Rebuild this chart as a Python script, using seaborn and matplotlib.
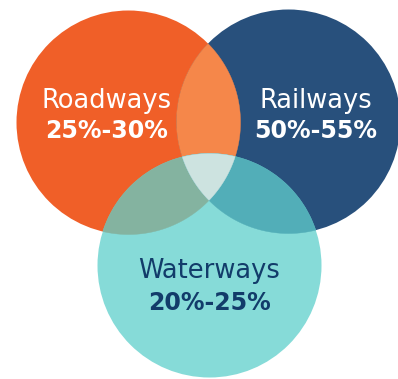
import numpy as np
import matplotlib
matplotlib.use("Agg")
import matplotlib.pyplot as plt
from matplotlib.patches import Circle, Polygon
import seaborn as sns

# ---- data ----
categories = ["Roadways", "Railways", "Waterways"]
shares = ["25%-30%", "50%-55%", "20%-25%"]

# ---- styling / layout (pixel coordinates) ----
centers = [(128.5, 122.5), (288.5, 121.5), (209.5, 265.5)]
radius = 112.0
fill_colors = ["#F05F28", "#28507C", "#86DBD8"]
pair_colors = {(0, 1): "#F5874A", (0, 2): "#84B3A0", (1, 2): "#52AEB8"}
triple_color = "#CDE3E0"
text_colors = ["white", "white", "#123C6A"]
name_pos = [(107, 108), (316, 108), (209, 278)]
share_pos = [(107, 138), (316, 138), (209, 310)]

sns.set_theme(style="white")
plt.rcParams["font.family"] = ["DejaVu Sans"]

fig = plt.figure(figsize=(3.98, 3.79), dpi=100)
ax = fig.add_axes([0, 0, 1, 1])
ax.set_xlim(0, 398)
ax.set_ylim(379, 0)
ax.set_aspect("equal")
ax.axis("off")


def inside(p, idx):
    cx, cy = centers[idx]
    return (p[0] - cx) ** 2 + (p[1] - cy) ** 2 <= radius ** 2 + 1e-6


def intersection_poly(ids):
    pts = []
    t = np.linspace(0, 2 * np.pi, 2000, endpoint=False)
    for i in ids:
        cx, cy = centers[i]
        for a in t:
            p = (cx + radius * np.cos(a), cy + radius * np.sin(a))
            if all(inside(p, j) for j in ids if j != i):
                pts.append(p)
    pts = np.array(pts)
    c = pts.mean(axis=0)
    ang = np.arctan2(pts[:, 1] - c[1], pts[:, 0] - c[0])
    return pts[np.argsort(ang)]


for i, (c, col) in enumerate(zip(centers, fill_colors)):
    ax.add_patch(Circle(c, radius, facecolor=col, edgecolor="none", lw=0, zorder=1))

for (i, j), col in pair_colors.items():
    ax.add_patch(Polygon(intersection_poly([i, j]), closed=True, facecolor=col,
                         edgecolor=col, lw=0.3, zorder=2))

ax.add_patch(Polygon(intersection_poly([0, 1, 2]), closed=True, facecolor=triple_color,
                     edgecolor=triple_color, lw=0.3, zorder=3))

for k in range(3):
    ax.text(name_pos[k][0], name_pos[k][1], categories[k], ha="center", va="baseline",
            fontsize=18.5, fontweight="normal", color=text_colors[k], zorder=5)
    ax.text(share_pos[k][0], share_pos[k][1], shares[k], ha="center", va="baseline",
            fontsize=17, fontweight="bold", color=text_colors[k], zorder=5)

fig.savefig("out.png", dpi=100, facecolor="white")
